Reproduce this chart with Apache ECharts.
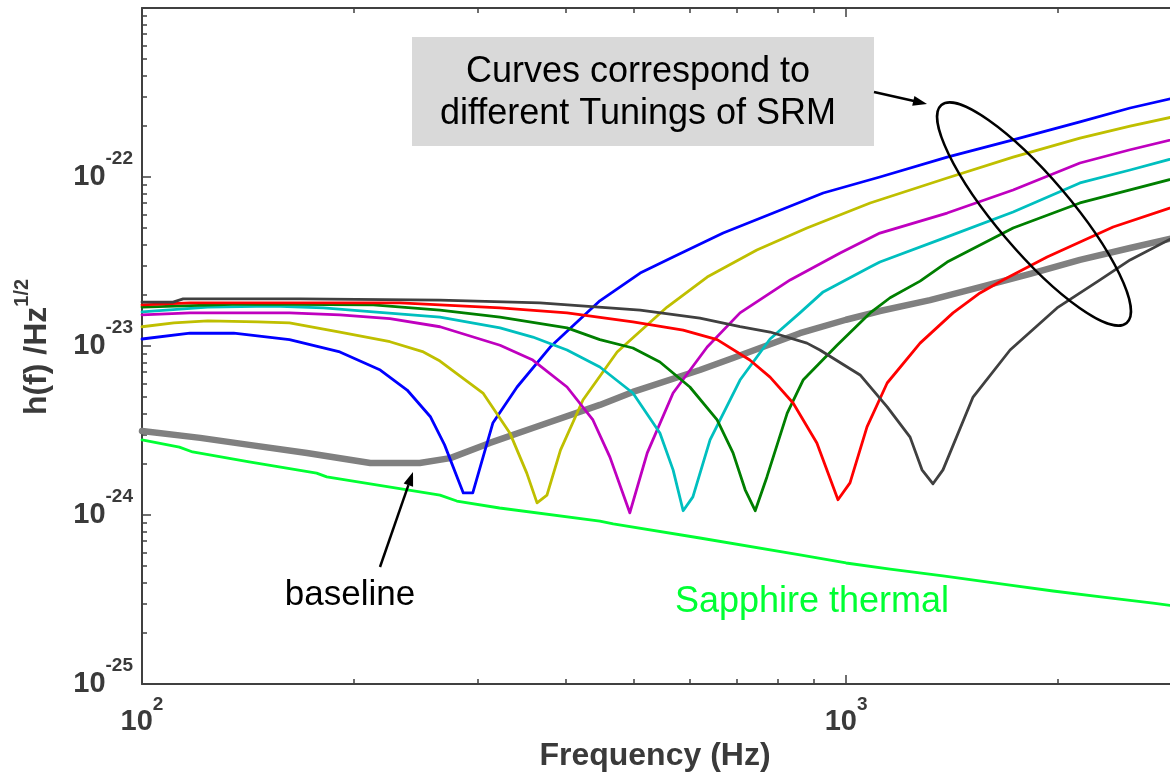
<!DOCTYPE html>
<html><head><meta charset="utf-8">
<script src="https://cdn.jsdelivr.net/npm/echarts@6/dist/echarts.min.js"></script>
<style>html,body{margin:0;padding:0;background:#fff}#c{width:1170px;height:775px}</style>
</head><body><div id="c"></div>
<script>
const FONT = '"Liberation Sans", Arial, Helvetica, sans-serif';
const AX = '#404040';
const TXT = '#3a3a3a';

// axis ranges
const xMin = 100, xMax = 2885;       // Hz (plot is cut at the right window edge)
const yMin = 1e-25, yMax = 1e-21;    // 1/sqrt(Hz)
const H_UNIT = 1e-24;                // plotting unit for h(f) (avoids float rounding of tiny numbers)

// tick values
const xMajorTicks = [100, 1000];
const xMinorTicks = [200, 300, 400, 500, 600, 700, 800, 900, 2000];
const yMajorTicks = [1e-25, 1e-24, 1e-23, 1e-22, 1e-21];
const yLabelTicks = [1e-25, 1e-24, 1e-23, 1e-22];
const yMinorTicks = [
  2e-25,3e-25,4e-25,5e-25,6e-25,7e-25,8e-25,9e-25,
  2e-24,3e-24,4e-24,5e-24,6e-24,7e-24,8e-24,9e-24,
  2e-23,3e-23,4e-23,5e-23,6e-23,7e-23,8e-23,9e-23,
  2e-22,3e-22,4e-22,5e-22,6e-22,7e-22,8e-22,9e-22
];

// series: [frequency Hz, h(f) 1/sqrt(Hz)]
const sapphireThermal = [[100,2.78e-24],[113,2.52e-24],[118,2.36e-24],[142,2.06e-24],[177,1.77e-24],[183,1.68e-24],[265,1.31e-24],[280,1.21e-24],[322,1.10e-24],[447,9.2e-25],[467,8.85e-25],[620,7.31e-25],[860,5.8e-25],[1000,5.2e-25],[1155,4.79e-25],[1373,4.36e-25],[1710,3.85e-25],[1968,3.55e-25],[2317,3.27e-25],[2730,3.01e-25],[3000,2.86e-25]];
const baseline = [[100,3.14e-24],[121,2.86e-24],[142,2.60e-24],[171.5,2.33e-24],[211,2.03e-24],[248,2.03e-24],[274,2.17e-24],[312,2.67e-24],[359,3.27e-24],[447,4.48e-24],[498,5.35e-24],[620,7.21e-24],[691,8.49e-24],[860,1.19e-23],[1000,1.43e-23],[1117,1.61e-23],[1316,1.87e-23],[1550,2.23e-23],[1826,2.67e-23],[2149,3.23e-23],[2532,3.80e-23],[3000,4.48e-23]];
const tuneBlue = [[100,1.10e-23],[117,1.19e-23],[135,1.19e-23],[162,1.09e-23],[191,9.22e-24],[218,7.21e-24],[238,5.49e-24],[257,3.80e-24],[269,2.60e-24],[286,1.35e-24],[295,1.35e-24],[315,3.50e-24],[341,5.72e-24],[380,9.86e-24],[447,1.85e-23],[510,2.70e-23],[568,3.36e-23],[669,4.66e-23],[788,6.12e-23],[928,8.04e-23],[1117,1.0e-22],[1392,1.31e-22],[1727,1.66e-22],[2149,2.12e-22],[2532,2.56e-22],[3000,3.01e-22]];
const tuneYellow = [[100,1.30e-23],[111,1.37e-23],[124,1.41e-23],[146,1.39e-23],[162,1.37e-23],[191,1.21e-23],[225,1.06e-23],[251,9.22e-24],[265,8.15e-24],[305,5.27e-24],[333,3.06e-24],[352,1.77e-24],[364,1.18e-24],[376,1.31e-24],[393,2.42e-24],[423,4.79e-24],[473,9.22e-24],[557,1.70e-23],[635,2.56e-23],[747,3.70e-23],[880,4.99e-23],[1082,7.02e-23],[1392,9.86e-23],[1727,1.31e-22],[2149,1.70e-22],[2532,2.00e-22],[3000,2.33e-22]];
const tuneMagenta = [[100,1.53e-23],[117,1.57e-23],[162,1.57e-23],[191,1.53e-23],[225,1.45e-23],[265,1.30e-23],[322.5,1.01e-23],[359,8.26e-24],[401.5,5.72e-24],[437,3.65e-24],[462,2.20e-24],[493,1.03e-24],[522,2.33e-24],[568,5.27e-24],[635,9.86e-24],[707,1.57e-23],[833,2.46e-23],[981,3.55e-23],[1117,4.66e-23],[1392,6.12e-23],[1727,8.38e-23],[2149,1.21e-22],[2532,1.45e-22],[3000,1.72e-22]];
const tuneCyan = [[100,1.59e-23],[124,1.70e-23],[153.5,1.72e-23],[181,1.68e-23],[213,1.59e-23],[265,1.48e-23],[322.5,1.28e-23],[359,1.13e-23],[401.5,9.47e-24],[447,7.51e-24],[498,5.27e-24],[544,3.06e-24],[568,1.85e-24],[587,1.06e-24],[606,1.28e-24],[641,2.78e-24],[707,6.29e-24],[780,1.10e-23],[860,1.57e-23],[928,2.09e-23],[1082,2.93e-23],[1117,3.14e-23],[1392,4.42e-23],[1727,6.21e-23],[2149,9.22e-23],[2532,1.10e-22],[3000,1.33e-22]];
const tuneGreen = [[100,1.70e-23],[138,1.77e-23],[213,1.75e-23],[265,1.63e-23],[322.5,1.48e-23],[401.5,1.28e-23],[447,1.09e-23],[498,9.73e-24],[544,8.04e-24],[600,5.72e-24],[656,3.65e-24],[691,2.33e-24],[719,1.41e-24],[743,1.06e-24],[772,1.68e-24],[825,4.01e-24],[869,6.29e-24],[971,1.01e-23],[1082,1.57e-23],[1155,1.93e-23],[1274,2.42e-23],[1392,3.14e-23],[1727,4.99e-23],[2149,7.02e-23],[2532,8.38e-23],[3000,1.01e-22]];
const tuneRed = [[100,1.75e-23],[117,1.80e-23],[167.7,1.80e-23],[232.5,1.80e-23],[322.5,1.68e-23],[401.5,1.57e-23],[498,1.39e-23],[587,1.24e-23],[656,1.09e-23],[730,8.26e-24],[780,6.55e-24],[841,4.60e-24],[909,2.67e-24],[974,1.23e-24],[1013,1.55e-24],[1071,3.32e-24],[1144,6.04e-24],[1274,1.04e-23],[1419,1.57e-23],[1550,2.06e-23],[1671,2.46e-23],[1930,3.36e-23],[2395,5.06e-23],[3000,6.92e-23]];
const tuneDarkGray = [[100,1.82e-23],[110.7,1.82e-23],[114.4,1.90e-23],[167.7,1.90e-23],[265,1.87e-23],[367.5,1.80e-23],[510,1.63e-23],[620,1.46e-23],[707,1.30e-23],[780,1.21e-23],[880,1.04e-23],[918,9.47e-24],[1047,6.74e-24],[1144,4.36e-24],[1233,2.89e-24],[1282,1.85e-24],[1329,1.53e-24],[1373,1.85e-24],[1515,4.99e-24],[1710,9.47e-24],[1994,1.68e-23],[2295,2.46e-23],[2532,3.23e-23],[3000,4.66e-23]];

const seriesDefs = [
  {name:'Sapphire thermal', data:sapphireThermal, color:'#00ff33', width:2.8},
  {name:'baseline', data:baseline, color:'#808080', width:6.5},
  {name:'t1', data:tuneBlue, color:'#0000ff', width:2.8},
  {name:'t2', data:tuneYellow, color:'#bfbf00', width:2.8},
  {name:'t3', data:tuneMagenta, color:'#bf00bf', width:2.8},
  {name:'t4', data:tuneCyan, color:'#00bfbf', width:2.8},
  {name:'t5', data:tuneGreen, color:'#007f00', width:2.8},
  {name:'t6', data:tuneRed, color:'#ff0000', width:2.8},
  {name:'t7', data:tuneDarkGray, color:'#404040', width:2.8}
];

const toUnit = v => v / H_UNIT;
const unitExp = Math.round(Math.log10(H_UNIT));
const xFmt = v => '{n|10}{s|' + Math.round(Math.log10(v)) + '}';
const yFmt = v => '{n|10}{s|' + (Math.round(Math.log10(v)) + unitExp) + '}';
const numStyle = {fontSize:29, fontWeight:'bold', fontFamily:FONT, color:TXT, lineHeight:30};

function logX(extra) {
  return Object.assign({type:'log', logBase:10, min:xMin, max:xMax, gridIndex:0,
    splitLine:{show:false}, axisLabel:{show:false}, axisLine:{show:false}}, extra);
}
function logY(extra) {
  return Object.assign({type:'log', logBase:10, min:toUnit(yMin), max:toUnit(yMax), gridIndex:0,
    splitLine:{show:false}, axisLabel:{show:false}, axisLine:{show:false}}, extra);
}

const option = {
  animation:false,
  backgroundColor:'#ffffff',
  grid:{left:142, top:8, right:0, height:676, containLabel:false},
  xAxis:[
    logX({position:'bottom',
      axisLine:{show:true, lineStyle:{color:AX, width:2}},
      axisTick:{show:true, inside:true, length:9, customValues:xMajorTicks, lineStyle:{color:AX, width:1.5}},
      axisLabel:{show:true, customValues:xMajorTicks, margin:22.5, formatter:xFmt,
        rich:{n:numStyle, s:{fontSize:19, fontWeight:'bold', fontFamily:FONT, color:TXT, lineHeight:20, padding:[0,0,33,0]}}}
    }),
    logX({position:'bottom',
      axisTick:{show:true, inside:true, length:5, customValues:xMinorTicks, lineStyle:{color:AX, width:1.5}}}),
    logX({position:'top',
      axisLine:{show:true, lineStyle:{color:AX, width:2}},
      axisTick:{show:true, inside:true, length:9, customValues:xMajorTicks, lineStyle:{color:AX, width:1.5}}}),
    logX({position:'top',
      axisTick:{show:true, inside:true, length:5, customValues:xMinorTicks, lineStyle:{color:AX, width:1.5}}})
  ],
  yAxis:[
    logY({position:'left',
      axisLine:{show:true, lineStyle:{color:AX, width:2}},
      axisTick:{show:true, inside:true, length:9, customValues:yMajorTicks.map(toUnit), lineStyle:{color:AX, width:1.5}},
      axisLabel:{show:true, customValues:yLabelTicks.map(toUnit), margin:9, formatter:yFmt,
        rich:{n:numStyle, s:{fontSize:19, fontWeight:'bold', fontFamily:FONT, color:TXT, lineHeight:20, padding:[0,0,36,0]}}}
    }),
    logY({position:'left',
      axisTick:{show:true, inside:true, length:5, customValues:yMinorTicks.map(toUnit), lineStyle:{color:AX, width:1.5}}})
  ],
  series: seriesDefs.map(d => ({
    type:'line', name:d.name, data:d.data.map(p => [p[0], toUnit(p[1])]), xAxisIndex:0, yAxisIndex:0,
    showSymbol:false, symbol:'none', smooth:false, silent:true, clip:true,
    lineStyle:{color:d.color, width:d.width, cap:'round', join:'round'}
  })),
  graphic:[
    {type:'rect', z:50, shape:{x:412, y:37, width:462, height:109}, style:{fill:'#d9d9d9'}},
    {type:'text', z:51, x:638, y:72, style:{text:'Curves correspond to', font:'36px ' + FONT, fill:'#000', align:'center', verticalAlign:'middle'}},
    {type:'text', z:51, x:638, y:114, style:{text:'different Tunings of SRM', font:'36px ' + FONT, fill:'#000', align:'center', verticalAlign:'middle'}},
    {type:'line', z:60, shape:{x1:874, y1:92, x2:914, y2:101}, style:{stroke:'#000', lineWidth:2.5}},
    {type:'polygon', z:60, shape:{points:[[927,104],[912.2,105.8],[914.4,96.0]]}, style:{fill:'#000'}},
    {type:'ellipse', z:60, x:1034, y:214, rotation:-0.866, shape:{cx:0, cy:0, rx:143, ry:37}, style:{fill:null, stroke:'#000', lineWidth:2.5}},
    {type:'text', z:51, x:350, y:595, style:{text:'baseline', font:'35px ' + FONT, fill:'#000', align:'center', verticalAlign:'middle'}},
    {type:'line', z:60, shape:{x1:380, y1:567, x2:408.4, y2:485.2}, style:{stroke:'#000', lineWidth:2.5}},
    {type:'polygon', z:60, shape:{points:[[413,472],[413.1,486.8],[403.7,483.6]]}, style:{fill:'#000'}},
    {type:'text', z:51, x:812, y:602, style:{text:'Sapphire thermal', font:'36px ' + FONT, fill:'#00ff33', align:'center', verticalAlign:'middle'}},
    {type:'text', z:51, x:655, y:756, style:{text:'Frequency (Hz)', font:'bold 32px ' + FONT, fill:TXT, align:'center', verticalAlign:'middle'}},
    {type:'text', z:51, x:37, y:347, rotation:Math.PI/2, style:{text:'{a|h(f) /Hz}{b|1/2}', align:'center', verticalAlign:'middle',
      rich:{a:{fontSize:32, fontWeight:'bold', fontFamily:FONT, fill:TXT, color:TXT, lineHeight:34},
            b:{fontSize:20, fontWeight:'bold', fontFamily:FONT, fill:TXT, color:TXT, lineHeight:21, padding:[0,0,30,0]}}}}
  ]
};

const chart = echarts.init(document.getElementById('c'), null, {renderer:'canvas', width:1170, height:775});
chart.setOption(option);
</script>
</body></html>
